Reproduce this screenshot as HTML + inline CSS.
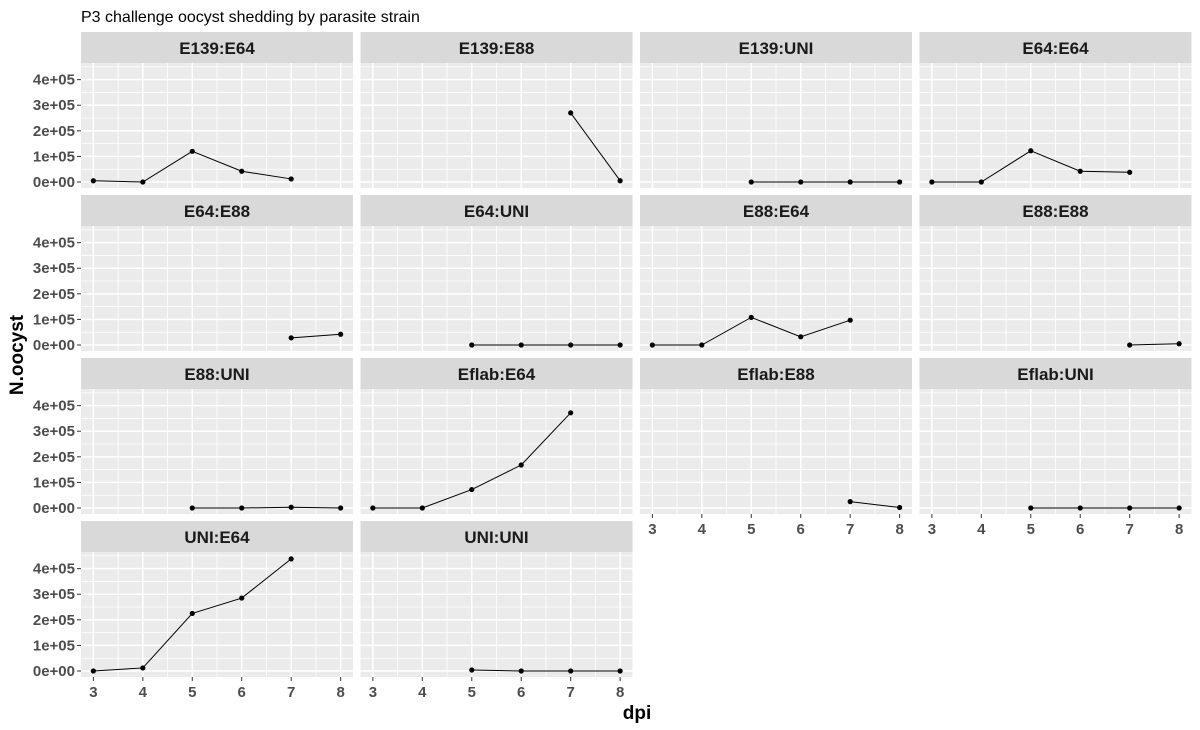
<!DOCTYPE html>
<html><head><meta charset="utf-8"><style>
body{margin:0;background:#fff;}
svg{display:block;font-family:"Liberation Sans",Arial,sans-serif;}
</style></head><body>
<svg id="chart" width="1200" height="730">
<text x="81" y="22" font-size="16" fill="#000">P3 challenge oocyst shedding by parasite strain</text>
<text x="637" y="719" font-size="19" font-weight="bold" text-anchor="middle" fill="#000">dpi</text>
<text transform="translate(23,355) rotate(-90)" font-size="19" font-weight="bold" text-anchor="middle" fill="#000">N.oocyst</text>
<g id="panels"></g>
</svg>
<script>
const panelNames = ["E139:E64","E139:E88","E139:UNI","E64:E64","E64:E88","E64:UNI","E88:E64","E88:E88","E88:UNI","Eflab:E64","Eflab:E88","Eflab:UNI","UNI:E64","UNI:UNI"];
const seriesDpi = [[3,4,5,6,7],[7,8],[5,6,7,8],[3,4,5,6,7],[7,8],[5,6,7,8],[3,4,5,6,7],[7,8],[5,6,7,8],[3,4,5,6,7],[7,8],[5,6,7,8],[3,4,5,6,7],[5,6,7,8]];
const seriesVal = [
 [5000,0,120000,42000,12000],
 [270000,5000],
 [0,0,0,0],
 [0,0,122000,42000,38000],
 [28000,42000],
 [0,0,0,0],
 [0,0,108000,32000,97000],
 [0,5000],
 [0,0,3000,0],
 [0,0,72000,168000,372000],
 [25000,2000],
 [0,0,0,0],
 [0,12000,225000,285000,438000],
 [4000,0,0,0]
];
const yTicks = [0,100000,200000,300000,400000];
const yTickLabels = ["0e+00","1e+05","2e+05","3e+05","4e+05"];
const xTicks = [3,4,5,6,7,8];

const NS="http://www.w3.org/2000/svg";
const g=document.getElementById('panels');
const colX=[81,360.5,640,919.5], PW=272, stripTop0=32, rowStep=163, SH=31, PH=125;
function el(t,a,p){const e=document.createElementNS(NS,t);for(const k in a)e.setAttribute(k,a[k]);(p||g).appendChild(e);return e;}
const xMin=2.75,xMax=8.25,yMin=-23400,yMax=465000;
panelNames.forEach((name,i)=>{
 const r=Math.floor(i/4),c=i%4;
 const x0=colX[c], st=stripTop0+r*rowStep, y0=st+SH, y1=y0+PH;
 const sx=v=>x0+(v-xMin)/(xMax-xMin)*PW;
 const sy=v=>y1-(v-yMin)/(yMax-yMin)*PH;
 const pg=el('g',{});
 
 
 const strip=el('rect',{x:x0,y:st,width:PW,height:SH,fill:'#D9D9D9'},pg);
 
 
 const stxt=el('text',{x:x0+PW/2,y:st+22,'font-size':17,'font-weight':'bold','text-anchor':'middle',fill:'#1A1A1A'},pg);
 stxt.textContent=name;
 
 
 const bg=el('rect',{x:x0,y:y0,width:PW,height:PH,fill:'#EBEBEB'},pg);
 
 
 for(let k=0;k<yTicks.length-1;k++){const v=(yTicks[k]+yTicks[k+1])/2;el('line',{x1:x0,x2:x0+PW,y1:sy(v),y2:sy(v),stroke:'#fff','stroke-width':0.8},pg);}
 el('line',{x1:x0,x2:x0+PW,y1:sy(-50000),y2:sy(-50000),stroke:'#fff','stroke-width':0.8},pg);
 el('line',{x1:x0,x2:x0+PW,y1:sy(450000),y2:sy(450000),stroke:'#fff','stroke-width':0.8},pg);
 for(let k=0;k<xTicks.length-1;k++){const v=(xTicks[k]+xTicks[k+1])/2;el('line',{x1:sx(v),x2:sx(v),y1:y0,y2:y1,stroke:'#fff','stroke-width':0.8},pg);}
 yTicks.forEach(v=>el('line',{x1:x0,x2:x0+PW,y1:sy(v),y2:sy(v),stroke:'#fff','stroke-width':1.5},pg));
 xTicks.forEach(v=>el('line',{x1:sx(v),x2:sx(v),y1:y0,y2:y1,stroke:'#fff','stroke-width':1.5},pg));
 if(c===0){yTicks.forEach((v,k)=>{
  el('line',{x1:x0-4,x2:x0,y1:sy(v),y2:sy(v),stroke:'#333','stroke-width':1},pg);
  const t=el('text',{x:x0-6,y:sy(v)+5,'font-size':15,'font-weight':'bold','text-anchor':'end',fill:'#4D4D4D'},pg);
  t.textContent=yTickLabels[k];
  
  
 });}
 if(i>=10){xTicks.forEach(v=>{
  el('line',{x1:sx(v),x2:sx(v),y1:y1,y2:y1+4,stroke:'#333','stroke-width':1},pg);
  const t=el('text',{x:sx(v),y:y1+20,'font-size':15,'font-weight':'bold','text-anchor':'middle',fill:'#4D4D4D'},pg);
  t.textContent=v;
  
  
 });}
 const ds=seriesDpi[i], vs=seriesVal[i];
 const pts=ds.map((d,k)=>sx(d)+','+sy(vs[k])).join(' ');
 const ln=el('polyline',{points:pts,fill:'none',stroke:'#000','stroke-width':1},pg);
 
 
 ds.forEach((d,k)=>{const p=el('circle',{cx:sx(d),cy:sy(vs[k]),r:2.6,fill:'#000'},pg);
  
  });
});
</script>
</body></html>
